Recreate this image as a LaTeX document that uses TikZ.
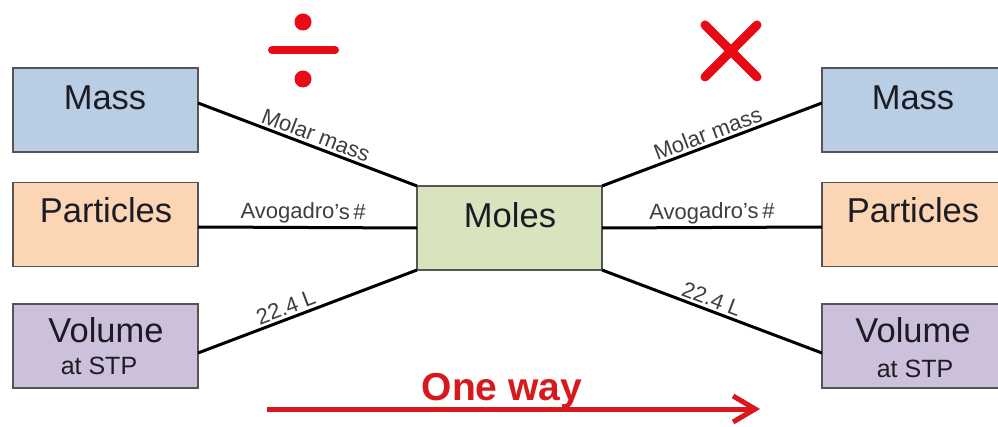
\documentclass[tikz,border=0pt]{standalone}
\usepackage{fontspec}
\setmainfont{Liberation Sans}
\usetikzlibrary{arrows.meta}
\definecolor{massblue}{RGB}{185,205,229}
\definecolor{partorange}{RGB}{252,213,180}
\definecolor{volpurple}{RGB}{204,192,218}
\definecolor{molegreen}{RGB}{215,228,189}
\definecolor{boxedge}{RGB}{85,85,85}
\definecolor{txt}{RGB}{28,28,36}
\definecolor{redsym}{RGB}{232,10,20}
\definecolor{redarrow}{RGB}{215,25,30}
\tikzset{
  box/.style={draw=boxedge, line width=1.8pt, minimum width=185pt, minimum height=84pt, inner sep=0pt, outer sep=0pt},
  bigtxt/.style={text=txt, anchor=base, inner sep=0pt, font=\fontsize{34.5}{38}\selectfont},
  smalltxt/.style={text=txt, anchor=base, inner sep=0pt, font=\fontsize{25}{28}\selectfont},
  link/.style={draw=black, line width=3pt},
  lbl/.style={text=txt!85, font=\fontsize{22}{24}\selectfont, sloped, above, inner sep=2.5pt}
}
\begin{document}
\begin{tikzpicture}[x=1pt,y=-1pt]
\useasboundingbox[fill=white] (0,0) rectangle (998,427);
% left boxes
\node[box, fill=massblue] (massL) at (105.5,110) {};
\node[box, fill=partorange] (partL) at (105.5,224.5) {};
\node[box, fill=volpurple] (volL) at (105.5,346) {};
% right boxes
\node[box, fill=massblue] (massR) at (914.5,110) {};
\node[box, fill=partorange] (partR) at (914.5,224.5) {};
\node[box, fill=volpurple] (volR) at (914.5,346) {};
% centre box
\node[box, fill=molegreen] (moles) at (509.5,228) {};
% texts
\node[bigtxt] (tmassL) at (105,110) {Mass};
\node[bigtxt] (tpartL) at (106,223) {Particles};
\node[bigtxt] (tvolL) at (106,343) {Volume};
\node[smalltxt] (tstpL) at (99,374) {at STP};
\node[bigtxt] (tmassR) at (913,110) {Mass};
\node[bigtxt] (tpartR) at (913,223) {Particles};
\node[bigtxt] (tvolR) at (913,343) {Volume};
\node[smalltxt] (tstpR) at (915,377) {at STP};
\node[bigtxt] (tmoles) at (510,228) {Moles};
% connectors
\draw[link] ([yshift=7pt]massL.east) -- node[lbl, pos=0.52] {Molar mass} (moles.north west);
\draw[link] ([yshift=-2.5pt]partL.east) -- node[lbl, pos=0.48] {Avogadro's\,\#} (moles.west);
\draw[link] ([yshift=-7pt]volL.east) -- node[lbl, pos=0.42] {22.4 L} (moles.south west);
\draw[link] (moles.north east) -- node[lbl, pos=0.5] {Molar mass} ([yshift=7pt]massR.west);
\draw[link] (moles.east) -- node[lbl, pos=0.5] {Avogadro's\,\#} ([yshift=-2.5pt]partR.west);
\draw[link] (moles.south east) -- node[lbl, pos=0.48] {22.4 L} ([yshift=-7pt]volR.west);
% divide sign
\fill[redsym] (303,22) circle (8.5);
\fill[redsym] (303,79) circle (8.5);
\draw[redsym, line width=8pt, line cap=round] (272,50) -- (335,50);
% multiply sign
\draw[redsym, line width=9pt, line cap=round] (705,25) -- (757,77);
\draw[redsym, line width=9pt, line cap=round] (757,25) -- (705,77);
% one way arrow
\coordinate (arrS) at (267,409);
\coordinate (arrE) at (760,409);
\draw[redarrow, line width=5pt, -{Straight Barb[length=22pt, width=26pt, line width=5pt]}] (arrS) -- (arrE);
\node[text=redarrow, anchor=base, inner sep=0pt, font=\bfseries\fontsize{39}{42}\selectfont] (oneway) at (502,400) {One way};
\end{tikzpicture}
\end{document}
